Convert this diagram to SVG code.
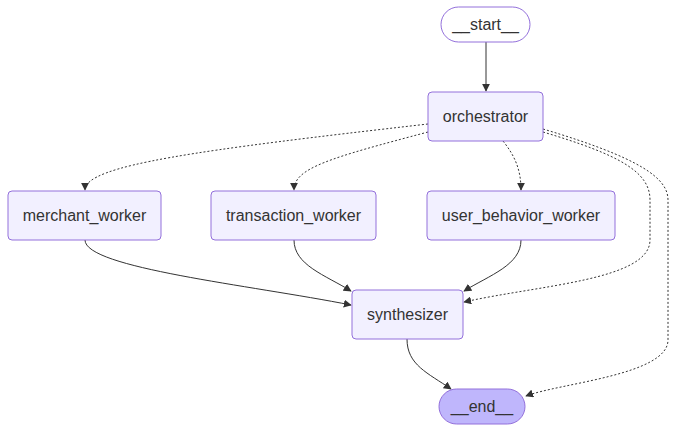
<svg xmlns="http://www.w3.org/2000/svg" width="678" height="432" viewBox="0 0 678 432">
<style>
.n{fill:#f2f0ff;stroke:#9370db;stroke-width:1}
.first{fill:#ffffff;stroke:#9370db;stroke-width:1}
.last{fill:#bfb6fc;stroke:#9370db;stroke-width:1}
.t{font-family:"Liberation Sans",Arial,sans-serif;font-size:16px;fill:#333;text-anchor:middle;dominant-baseline:central}
.e{fill:none;stroke:#333;stroke-width:1}
.d{fill:none;stroke:#333;stroke-width:1;stroke-dasharray:2 2}
</style>
<defs>
<marker id="ah" viewBox="0 0 10 10" refX="9" refY="5" markerWidth="8" markerHeight="8" orient="auto" markerUnits="userSpaceOnUse">
<path d="M0,0 L10,5 L0,10 z" fill="#333"/>
</marker>
</defs>
<rect width="678" height="432" fill="#ffffff"/>
<g id="edges">
<path class="e" d="M486,42 L486,91" marker-end="url(#ah)"/>
<path class="d" d="M428,124 C200,150 85,165 85,190" marker-end="url(#ah)"/>
<path class="d" d="M428,132 C330,158 294,168 294,190" marker-end="url(#ah)"/>
<path class="d" d="M503,141 C515,156 521,170 521,190" marker-end="url(#ah)"/>
<path class="d" d="M543,132 C620,155 650,172 650,200 L650,240 C650,280 540,285 464,302" marker-end="url(#ah)"/>
<path class="d" d="M543,129 C640,158 668,178 668,200 L668,340 C668,375 560,383 526,396" marker-end="url(#ah)"/>
<path class="e" d="M85,240 C85,268 250,285 351,305" marker-end="url(#ah)"/>
<path class="e" d="M294,240 C294,265 325,275 351,291" marker-end="url(#ah)"/>
<path class="e" d="M521,240 C521,265 490,275 464,291" marker-end="url(#ah)"/>
<path class="e" d="M407,339 C407,365 428,373 451,389" marker-end="url(#ah)"/>
</g>
<g id="start"><rect class="first" x="441" y="7" width="89" height="35" rx="17.5"/><text class="t" x="485.5" y="24.5">__start__</text></g>
<g id="orchestrator"><rect class="n" x="428" y="92" width="115" height="49" rx="4"/><text class="t" x="485.5" y="116.5">orchestrator</text></g>
<g id="merchant_worker"><rect class="n" x="8" y="191" width="153" height="49" rx="4"/><text class="t" x="84.5" y="215.5">merchant_worker</text></g>
<g id="transaction_worker"><rect class="n" x="211" y="191" width="165" height="49" rx="4"/><text class="t" x="293.5" y="215.5">transaction_worker</text></g>
<g id="user_behavior_worker"><rect class="n" x="427" y="191" width="188" height="49" rx="4"/><text class="t" x="521" y="215.5">user_behavior_worker</text></g>
<g id="synthesizer"><rect class="n" x="352" y="290" width="111" height="49" rx="4"/><text class="t" x="407.5" y="314.5">synthesizer</text></g>
<g id="end"><rect class="last" x="439" y="389" width="86" height="35" rx="17.5"/><text class="t" x="482" y="406.5">__end__</text></g>
</svg>
